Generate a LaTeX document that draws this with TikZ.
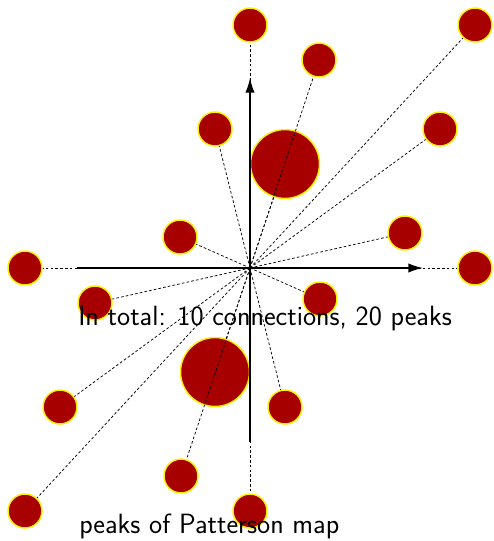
\documentclass[tikz,border=0pt]{standalone}
\usetikzlibrary{arrows.meta}
\definecolor{peakred}{RGB}{166,0,0}
\definecolor{peakyellow}{RGB}{255,240,0}
\begin{document}
\begin{tikzpicture}[x=0.75pt,y=-0.75pt,
  peak/.style={circle,draw=peakyellow,fill=peakred,line width=1.1pt,minimum size=25.5pt,inner sep=0pt},
  bigpeak/.style={peak,minimum size=51.75pt},
  conn/.style={draw=black,line width=0.55pt,dash pattern=on 2pt off 1.6pt},
  axis/.style={draw=black,line width=1.1pt,-{Latex[length=11pt,width=7pt]}},
  label/.style={anchor=base west,inner sep=0pt,font=\sffamily\fontsize{20.9}{24}\selectfont}]
\useasboundingbox (0,0) rectangle (493,541);
\coordinate (o) at (250,268);
\coordinate (xl) at (77,268);
\coordinate (xr) at (423,268);
\coordinate (yb) at (250,442);
\coordinate (yt) at (250,78);
% peaks
\node[peak] (p1) at (250,25) {};
\node[peak] (p2) at (319,60) {};
\node[peak] (p3) at (475,25) {};
\node[peak] (p4) at (440,129) {};
\node[peak] (p5) at (215,129) {};
\node[bigpeak] (p6) at (285,164) {};
\node[peak] (p7) at (180,237) {};
\node[peak] (p8) at (405,233) {};
\node[peak] (p9) at (25,268) {};
\node[peak] (p10) at (475,268) {};
\node[peak] (q1) at (250,511) {};
\node[peak] (q2) at (181,476) {};
\node[peak] (q3) at (25,511) {};
\node[peak] (q4) at (60,407) {};
\node[peak] (q5) at (285,407) {};
\node[bigpeak] (q6) at (215,372) {};
\node[peak] (q7) at (320,299) {};
\node[peak] (q8) at (95,303) {};
% connections
\foreach \p in {p1,p2,p3,p4,p5,p6,p7,p8,p9,p10,q1,q2,q3,q4,q5,q6,q7,q8}
  \path[conn] (o) -- (\p);
% axes
\path[axis] (xl) -- (xr);
\path[axis] (yb) -- (yt);
% texts
\node[label] (t1) at (78,325) {In total: 10 connections, 20 peaks};
\node[label] (t2) at (79,533) {peaks of Patterson map};
\end{tikzpicture}
\end{document}
